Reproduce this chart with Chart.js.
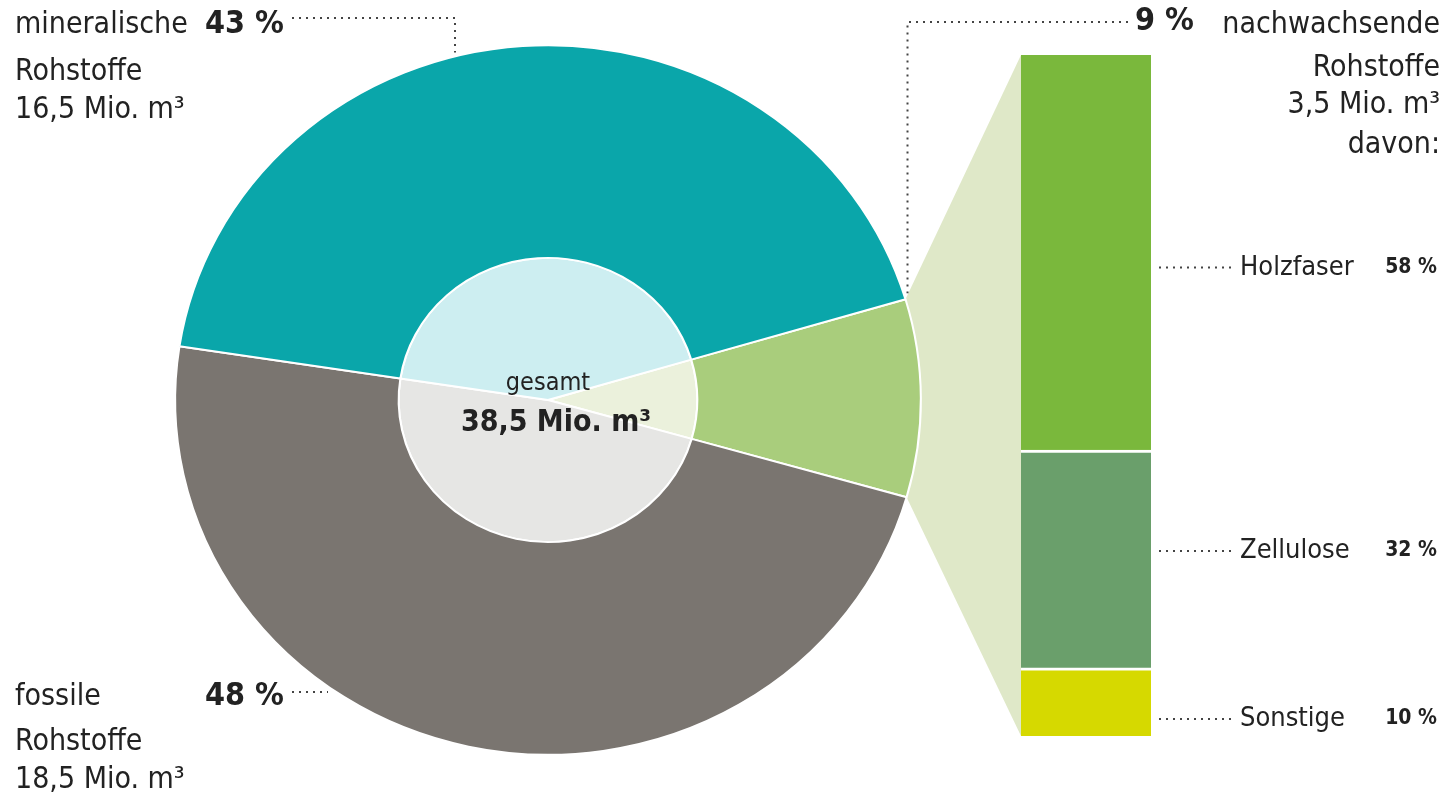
<!DOCTYPE html>
<html>
<head>
<meta charset="utf-8">
<script src="https://cdn.jsdelivr.net/npm/chart.js@4"></script>
<style>
  body { margin: 0; background: #fff; }
  #wrap { position: relative; width: 1447px; height: 799px; }
  #pieBox { position: absolute; left: 0; top: 0; width: 1447px; height: 799px; }
  #barBox { position: absolute; left: 1000px; top: 0; width: 447px; height: 799px; }
</style>
</head>
<body>
<div id="wrap">
  <div id="pieBox"><canvas id="pieChart" width="1447" height="799"></canvas></div>
  <div id="barBox"><canvas id="barChart" width="447" height="799"></canvas></div>
</div>
<script>
// Rohstoffe gesamt (Anteile in %)
let pieLabels = ['nachwachsende Rohstoffe', 'fossile Rohstoffe', 'mineralische Rohstoffe'];
let pieValues = [9, 48, 43];
let pieColors = ['#a9cd7c', '#7a7570', '#0aa6aa'];
let pieInner = ['#ebf1dc', '#e6e6e4', '#cdeef1'];

// davon nachwachsende (von unten nach oben)
let subLabels = ['Sonstige', 'Zellulose', 'Holzfaser'];
let subValues = [10, 32, 58];
let subColors = ['#d6d900', '#6a9f6b', '#7ab83c'];

const FONT = "'Liberation Sans Narrow', 'DejaVu Sans Condensed', sans-serif";
const TXT = '#222';
// Ring im Original leicht gestaucht (breiter als hoch)
const SX = 1.03, SY = 0.98;

function dotted(ctx, pts) {
  ctx.save();
  ctx.strokeStyle = '#444';
  ctx.lineWidth = 2;
  ctx.setLineDash([2, 5]);
  ctx.beginPath();
  ctx.moveTo(pts[0][0], pts[0][1]);
  for (let i = 1; i < pts.length; i++) ctx.lineTo(pts[i][0], pts[i][1]);
  ctx.stroke();
  ctx.restore();
}

function txt(ctx, s, x, y, size, bold, align) {
  ctx.font = (bold ? 'bold ' : '') + size + 'px ' + FONT;
  ctx.textAlign = align || 'left';
  ctx.textBaseline = 'middle';
  ctx.fillStyle = TXT;
  ctx.fillText(s, x, y);
}

// Punkt auf dem Außenrand (mit Stauchung)
function rim(arc, ang) {
  const R = arc.outerRadius;
  return [arc.x + R * Math.cos(ang) * SX, arc.y + R * Math.sin(ang) * SY];
}

// Säule rechts
var ctxBar = document.getElementById('barChart').getContext('2d');
var barChart = new Chart(ctxBar, {
  type: 'bar',
  data: {
    labels: ['nachwachsende'],
    datasets: subLabels.map((l, i) => ({
      label: l,
      data: [subValues[i]],
      backgroundColor: subColors[i],
      borderColor: '#ffffff',
      borderWidth: i === subLabels.length - 1 ? 0 : { top: 3, bottom: 0, left: 0, right: 0 },
      borderSkipped: false
    }))
  },
  options: {
    responsive: false,
    animation: false,
    layout: { padding: { left: 21, right: 296, top: 55, bottom: 63 } },
    barPercentage: 1,
    categoryPercentage: 1,
    scales: {
      x: { stacked: true, display: false },
      y: { stacked: true, display: false, min: 0, max: 100 }
    },
    plugins: { legend: { display: false }, tooltip: { enabled: false } }
  },
  plugins: [{
    id: 'subLabels',
    afterDraw(chart) {
      const ctx = chart.ctx;
      subLabels.forEach((l, i) => {
        const el = chart.getDatasetMeta(i).data[0];
        const y = (el.y + el.base) / 2 + [17, -8, 15][i];
        const right = el.x + el.width / 2;
        dotted(ctx, [[right + 8, y], [right + 80, y]]);
        txt(ctx, l, 240, y, 27, false);
        txt(ctx, subValues[i] + ' %', 437, y, 21, true, 'right');
      });
    }
  }]
});

// Ring links
var ctxPie = document.getElementById('pieChart').getContext('2d');
var pieChart = new Chart(ctxPie, {
  type: 'pie',
  data: {
    labels: pieLabels,
    datasets: [
      { data: pieValues, backgroundColor: pieColors, borderColor: '#fff', borderWidth: 2, weight: 217 },
      { data: pieValues, backgroundColor: pieInner, borderColor: '#fff', borderWidth: 2, weight: 145 }
    ]
  },
  options: {
    responsive: false,
    animation: false,
    rotation: 73.5,
    layout: { padding: { left: 185, right: 536, top: 37, bottom: 36 } },
    plugins: { legend: { display: false }, tooltip: { enabled: false } }
  },
  plugins: [{
    id: 'connector',
    beforeDatasetsDraw(chart) {
      const ctx = chart.ctx;
      const arc = chart.getDatasetMeta(0).data[0];
      const top = barChart.getDatasetMeta(subLabels.length - 1).data[0];
      const bot = barChart.getDatasetMeta(0).data[0];
      const a = document.getElementById('barBox').getBoundingClientRect();
      const b = document.getElementById('pieBox').getBoundingClientRect();
      const ox = a.left - b.left, oy = a.top - b.top;
      const bx = ox + top.x - top.width / 2;
      const p1 = rim(arc, arc.startAngle), p2 = rim(arc, arc.endAngle);
      ctx.save();
      ctx.fillStyle = '#dfe8c8';
      ctx.beginPath();
      ctx.moveTo(p1[0], p1[1]);
      ctx.lineTo(bx, oy + top.y);
      ctx.lineTo(bx, oy + bot.base);
      ctx.lineTo(p2[0], p2[1]);
      ctx.closePath();
      ctx.fill();
      ctx.restore();
      // Stauchung für den Ring
      ctx.save();
      ctx.translate(arc.x, arc.y);
      ctx.scale(SX, SY);
      ctx.translate(-arc.x, -arc.y);
    },
    afterDatasetsDraw(chart) {
      chart.ctx.restore();
    },
    afterDraw(chart) {
      const ctx = chart.ctx;
      const arc = chart.getDatasetMeta(0).data[0];
      const R = arc.outerRadius;
      // Mitte
      txt(ctx, 'gesamt', arc.x, arc.y - 17, 25, false, 'center');
      txt(ctx, '38,5 Mio. m³', arc.x + 8, arc.y + 23, 30, true, 'center');

      // mineralische
      txt(ctx, 'mineralische', 15, 25, 30, false);
      txt(ctx, '43 %', 205, 25, 32, true);
      txt(ctx, 'Rohstoffe', 15, 72, 30, false);
      txt(ctx, '16,5 Mio. m³', 15, 110, 30, false);
      const lx = 455;
      const dx = (lx - arc.x) / SX;
      dotted(ctx, [[292, 18], [lx, 18], [lx, arc.y - SY * Math.sqrt(R * R - dx * dx) - 4]]);

      // fossile
      txt(ctx, 'fossile', 15, 697, 30, false);
      txt(ctx, '48 %', 205, 697, 32, true);
      txt(ctx, 'Rohstoffe', 15, 742, 30, false);
      txt(ctx, '18,5 Mio. m³', 15, 780, 30, false);
      dotted(ctx, [[292, 692], [328, 692]]);

      // nachwachsende
      txt(ctx, '9 %', 1135, 22, 32, true);
      txt(ctx, 'nachwachsende', 1440, 25, 30, false, 'right');
      txt(ctx, 'Rohstoffe', 1440, 68, 30, false, 'right');
      txt(ctx, '3,5 Mio. m³', 1440, 105, 30, false, 'right');
      txt(ctx, 'davon:', 1440, 145, 30, false, 'right');
      const p = rim(arc, arc.startAngle);
      dotted(ctx, [[1128, 22], [p[0] + 2, 22], [p[0] + 2, p[1] - 6]]);
    }
  }]
});
</script>
</body>
</html>
